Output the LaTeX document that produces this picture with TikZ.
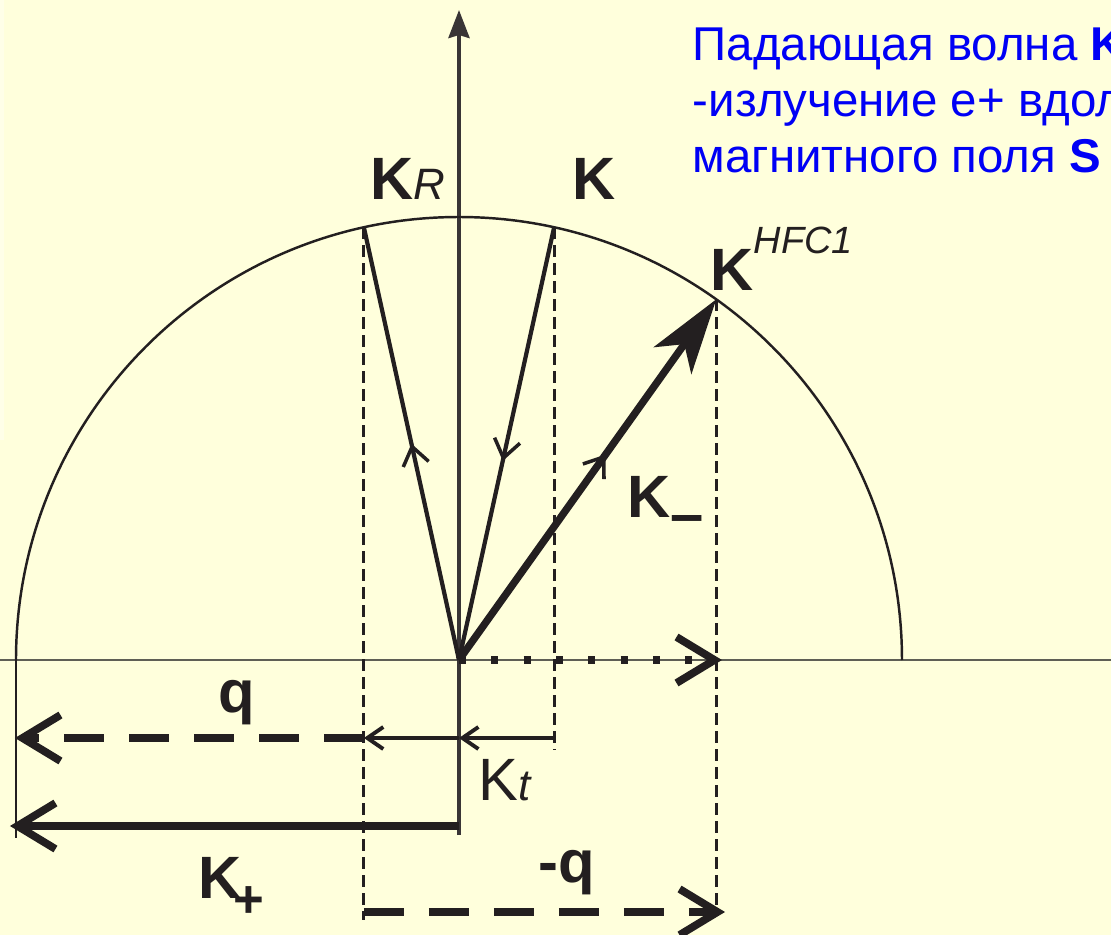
\documentclass[tikz,border=0pt]{standalone}
\usepackage{fontspec}
\setmainfont{Liberation Sans}
\usetikzlibrary{arrows.meta,positioning,calc,decorations.markings}
\definecolor{paper}{RGB}{255,255,220}
\definecolor{paperlight}{RGB}{255,255,232}
\definecolor{ink}{RGB}{35,31,32}
\definecolor{axisgray}{RGB}{95,95,85}
\definecolor{textblue}{RGB}{0,0,245}
\tikzset{
  vec/.style={ink, line width=1.2pt, postaction={decorate}},
  midarrow/.style={decoration={markings,
    mark=at position #1 with {\arrow{Straight Barb[length=1.8mm,width=2.6mm,line width=1pt]}}}},
  proj/.style={ink, line width=0.8pt, dash pattern=on 0.12cm off 0.06cm},
  bigbarb/.style={ink, line width=2.2pt, -{Straight Barb[length=3.8mm,width=4.6mm,line width=2.2pt]}},
  smallbarb/.style={ink, line width=1.1pt, -{Straight Barb[length=1.6mm,width=2.2mm,line width=1.1pt]}},
  lab/.style={text=ink, inner sep=0pt, anchor=base west, font=\fontsize{17}{20}\selectfont\bfseries},
  sublab/.style={text=ink, inner sep=0pt, anchor=base west, font=\fontsize{17}{20}\selectfont},
  note/.style={text=textblue, inner sep=0pt, anchor=base west, font=\fontsize{13.5}{16}\selectfont}
}
\begin{document}
\begin{tikzpicture}
% slide background
\fill[paper] (-4.59,-2.75) rectangle (6.52,6.60);
\fill[paperlight] (-4.59,2.20) rectangle (-4.55,6.60);
\clip (-4.59,-2.75) rectangle (6.52,6.60);
\def\R{4.43}
\coordinate (O) at (0,0);
\coordinate (KR) at (102.4:\R);
\coordinate (K) at (77.6:\R);
\coordinate (KH) at (54.5:\R);
% axes
\coordinate (Xl) at (-4.59,0);
\coordinate (Xr) at (6.52,0);
\coordinate (Yb) at (0,-1.75);
\coordinate (Yt) at (0,6.50);
\draw[axisgray, line width=0.6pt] (Xl) -- (Xr);
\draw[ink!90, line width=1.1pt, -{Stealth[length=2.8mm,width=2.1mm,inset=0.3mm]}] (Yb) -- (Yt);
% half circle
\draw[ink, line width=0.7pt] (\R,0) arc[start angle=0, end angle=180, radius=\R];
\coordinate (L0) at (-\R,0);
\coordinate (L1) at (-\R,-1.78);
\draw[ink, line width=0.5pt] (L0) -- (L1);
% projections
\coordinate (KRb) at ($(KR |- 0,-2.60)$);
\coordinate (Kb) at ($(K |- 0,-0.90)$);
\coordinate (KHb) at ($(KH |- 0,-2.50)$);
\draw[proj] (KR) -- (KRb);
\draw[proj] (K) -- (Kb);
\draw[proj] (KH) -- (KHb);
% wave vectors
\draw[vec, midarrow=0.5] (O) -- (KR);
\draw[vec, midarrow=0.54] (K) -- (O);
\draw[vec, midarrow=0.57, line width=2.1pt, -{Stealth[length=7.5mm,width=4.6mm,inset=2mm]}] (O) -- (KH);
% dotted projection of K^HFC1
\coordinate (Dx) at (2.63,0);
\draw[bigbarb, dash pattern=on 2pt off 7.2pt] (O) -- (Dx);
% K_t and q
\coordinate (T0) at ($(K |- 0,-0.78)$);
\coordinate (T1) at (0,-0.78);
\coordinate (T2) at ($(KR |- 0,-0.78)$);
\coordinate (Q) at (-4.44,-0.78);
\draw[smallbarb] (T0) -- (T1);
\draw[smallbarb] (T1) -- (T2);
\draw[bigbarb, dash pattern=on 0.4cm off 0.25cm] (T2) -- (Q);
% K_+ and -q
\coordinate (P0) at (0,-1.66);
\coordinate (P1) at (-4.49,-1.66);
\draw[bigbarb] (P0) -- (P1);
\coordinate (M0) at ($(KR |- 0,-2.52)$);
\coordinate (M1) at (2.66,-2.52);
\draw[bigbarb, dash pattern=on 0.4cm off 0.25cm] (M0) -- (M1);
% labels
\node[lab] (lKR) at (-0.89,4.60) {K{\mdseries\itshape\fontsize{12.5}{14}\selectfont R}};
\node[lab] (lK) at (1.13,4.60) {K};
\node[lab] (lKH) at (2.51,3.69) {K\raisebox{0.37cm}{\mdseries\itshape\fontsize{10.8}{12}\selectfont HFC1}};
\node[lab] (lKm) at (1.68,1.43) {K\raisebox{-0.17cm}{–}};
\node[lab, anchor=base] (lq) at (-2.22,-0.52) {q};
\node[sublab] (lKt) at (0.19,-1.40) {K{\itshape\fontsize{12.5}{14}\selectfont t}};
\node[lab] (lKp) at (-2.61,-2.38) {K\kern-0.08cm\raisebox{-0.19cm}{\fontsize{15}{18}\selectfont +}};
\node[lab] (lmq) at (0.79,-2.22) {-q};
% caption text
\node[note] (line1) at (2.33,5.99) {Падающая волна \textbf{K}};
\node[note] (line2) at (2.33,5.43) {-излучение e+ вдоль};
\node[note] (line3) at (2.33,4.87) {магнитного поля \textbf{S}};
\end{tikzpicture}
\end{document}
